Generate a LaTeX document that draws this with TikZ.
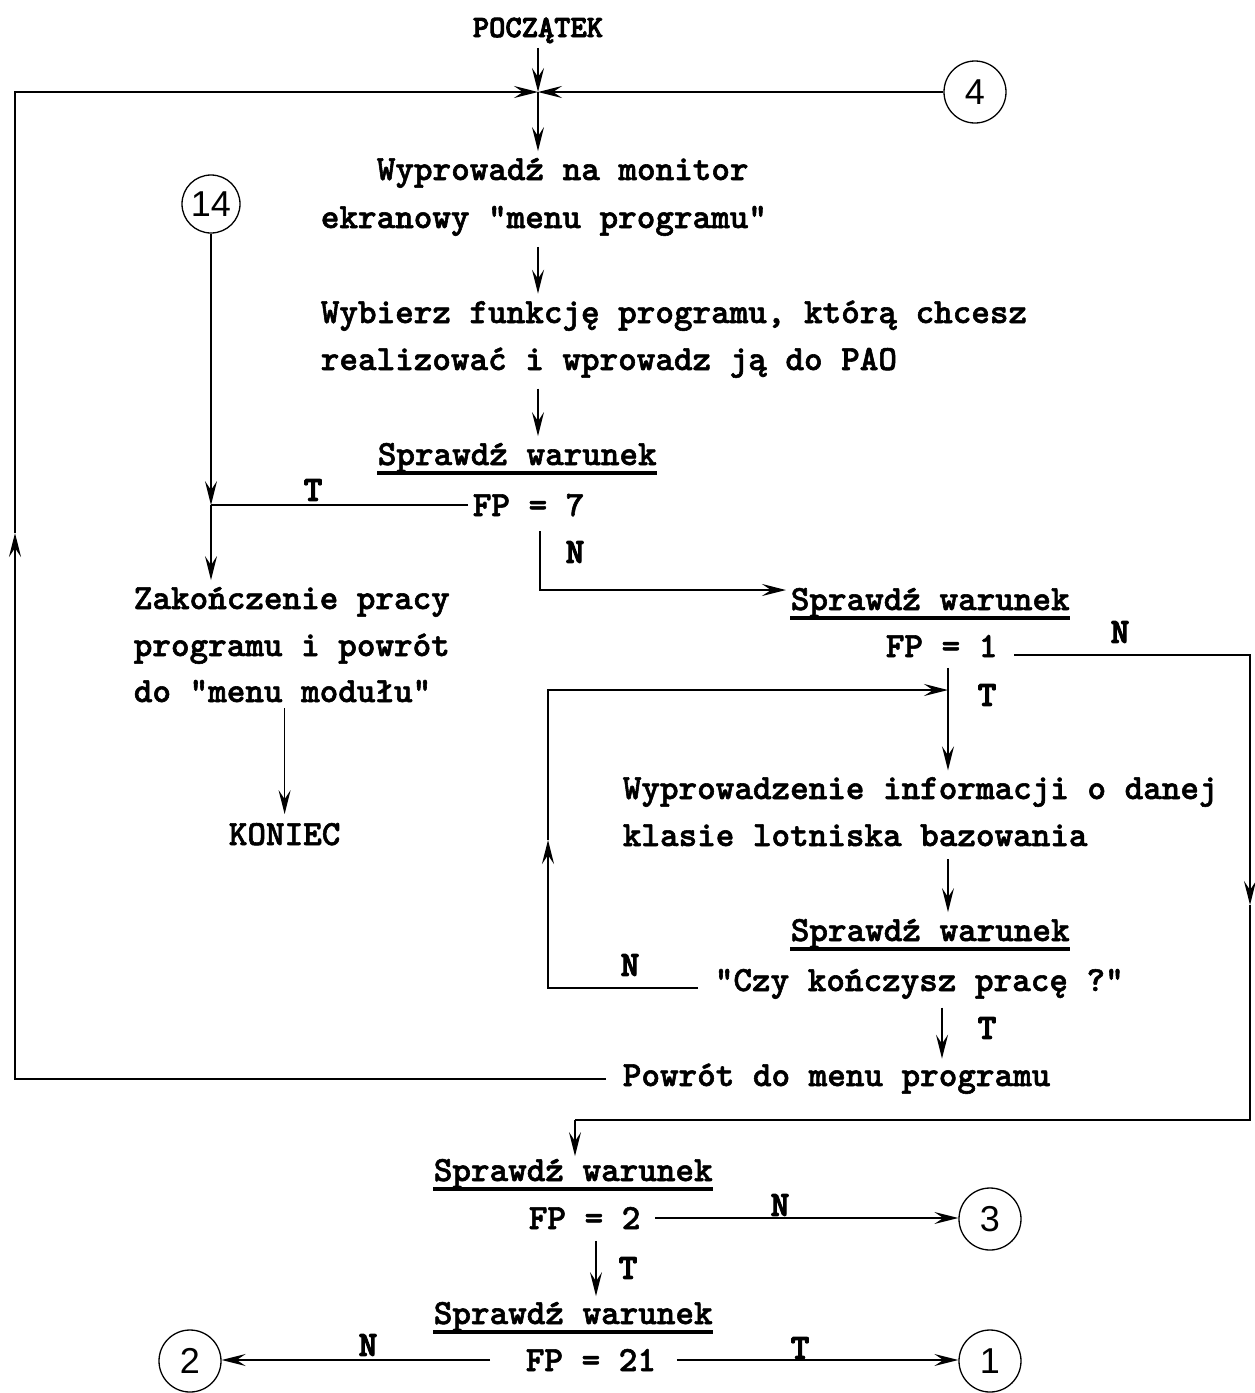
\documentclass[tikz,border=0pt]{standalone}
\usepackage{fontspec}
\newfontfamily\tw{lmmonolt10-bold}[Extension=.otf, FakeBold=1.6]
\newfontfamily\twb{lmmonolt10-bold}[Extension=.otf, FakeBold=3]
\newfontfamily\cf{Liberation Sans}
\usetikzlibrary{arrows.meta,calc}
\begin{document}
\begin{tikzpicture}[x=1pt,y=-1pt, line width=1.7pt,
  txt/.style={inner sep=0pt, anchor=base west, font=\tw\fontsize{35.4}{40}\selectfont},
  lbl/.style={inner sep=0pt, font=\twb\fontsize{35.4}{40}\selectfont},
  conn/.style={circle, draw, line width=1.3pt, minimum size=62pt, inner sep=0pt, font=\cf\fontsize{36}{40}\selectfont},
  arr/.style={-{Stealth[length=24pt,width=12pt,inset=9pt]}},
  und/.style={line width=3.5pt}]
\useasboundingbox (0,0) rectangle (1254,1393);
\fill[white] (0,0) rectangle (1254,1393);
% texts
\node[txt, font=\twb\fontsize{31}{34}\selectfont] (poc) at (472,37) {POCZĄTEK};
\node[txt] (w1) at (376,180) {Wyprowadź na monitor};
\node[txt] (w2) at (320,228) {ekranowy "menu programu"};
\node[txt] (b1) at (320,323) {Wybierz funkcję programu, którą chcesz};
\node[txt] (b2) at (320,370) {realizować i wprowadz ją do PAO};
\node[txt] (s1) at (377,465) {Sprawdź warunek};
\node[txt] (fp7) at (472,516) {FP = 7};
\node[txt] (z1) at (133,609) {Zakończenie pracy};
\node[txt] (z2) at (133,656) {programu i powrót};
\node[txt] (z3) at (133,702) {do "menu modułu"};
\node[txt] (kon) at (228,845) {KONIEC};
\node[txt] (s2) at (790,610) {Sprawdź warunek};
\node[txt] (fp1) at (885,657) {FP = 1};
\node[txt] (y1) at (622,799) {Wyprowadzenie informacji o danej};
\node[txt] (y2) at (622,846) {klasie lotniska bazowania};
\node[txt] (s3) at (790,941) {Sprawdź warunek};
\node[txt] (czy) at (714,991) {"Czy kończysz pracę ?"};
\node[txt] (pow) at (622,1086) {Powrót do menu programu};
\node[txt] (s4) at (433,1181) {Sprawdź warunek};
\node[txt] (fp2) at (528,1229) {FP = 2};
\node[txt] (s5) at (433,1324) {Sprawdź warunek};
\node[txt] (fp21) at (525,1371) {FP = 21};
% underlines
\foreach \s in {s1,s2,s3,s4,s5}
  \draw[und] ($(\s.base west)+(0,8)$) -- ($(\s.base east)+(0,8)$);
% connectors (circles)
\node[conn] (c4) at (975,92) {4};
\node[conn, minimum size=58pt] (c14) at (211,204) {14};
\node[conn] (c3) at (990,1219) {3};
\node[conn] (c2) at (190,1361) {2};
\node[conn] (c1) at (990,1361) {1};
% labels
\node[lbl] (t1) at (313,490) {T};
\node[lbl] (n1) at (575,552) {N};
\node[lbl] (n2) at (1120,632) {N};
\node[lbl] (t2) at (987,695) {T};
\node[lbl] (n3) at (630,965) {N};
\node[lbl] (t3) at (987,1028) {T};
\node[lbl] (n4) at (780,1205) {N};
\node[lbl] (t4) at (628,1268) {T};
\node[lbl] (n5) at (368,1345) {N};
\node[lbl] (t5) at (800,1348) {T};
% coordinates
\coordinate (jn) at (538,92);
\coordinate (e2) at (15,533);
\coordinate (e3) at (15,92);
\coordinate (k7) at (540,590);
\coordinate (r1) at (1250,655);
\coordinate (rm) at (1250,905);
\coordinate (r2) at (1250,1120);
\coordinate (r3) at (575,1120);
\coordinate (v1) at (948,690);
\coordinate (l1) at (548,988);
\coordinate (lm) at (548,840);
\coordinate (l2) at (548,690);
\coordinate (v2) at (942,1000);
\coordinate (v3) at (596,1240);
% main flow
\draw[arr, shorten <=4pt] (jn |- poc.south) -- (jn);
\draw[arr] (c4.west) -- (jn);
\draw[arr] ($(pow.west)+(-16,0)$) -- (pow.west -| e2) -- (e2);
\draw[arr] (e2) -- (e3) -- (jn);
\draw[arr, shorten >=6pt] (jn) -- (jn |- w1.north);
\draw[arr, shorten <=10pt, shorten >=6pt] (jn |- w2.south) -- (jn |- b1.north);
\draw[arr, shorten <=10pt, shorten >=6pt] (jn |- b2.south) -- (jn |- s1.north);
% FP=7
\draw ($(fp7.west)+(-4,0)$) -- (fp7.west -| c14);
\draw[arr] (c14.south) -- (fp7.west -| c14);
\draw[arr, shorten >=6pt] (fp7.west -| c14) -- (c14 |- z1.north);
\draw[arr, shorten <=5pt, shorten >=8pt] (kon.north |- z3.south) -- (kon.north);
\draw[arr, shorten <=14pt, shorten >=4pt] (k7 |- fp7.south) -- (k7) -- (k7 -| s2.west);
% FP=1
\draw[arr] ($(fp1.east |- r1)+(16,0)$) -- (r1) -- (rm);
\draw (rm) -- (r2) -- (r3);
\draw[arr, shorten >=2pt] (r3) -- (r3 |- s4.north);
\draw[arr, shorten <=10pt, shorten >=6pt] (v1 |- fp1.south) -- (v1 |- y1.north);
\draw[arr, shorten <=12pt, shorten >=6pt] (v1 |- y2.south) -- (v1 |- s3.north);
% loop
\draw[arr] ($(czy.west |- l1)+(-16,0)$) -- (l1) -- (lm);
\draw[arr] (lm) -- (l2) -- (v1);
\draw[arr, shorten <=8pt, shorten >=4pt] (v2 |- czy.south) -- (v2 |- pow.north);
% bottom
\draw[arr] ($(fp2.east)+(14,0)$) -- (fp2.east -| c3.west);
\draw[arr, shorten <=11pt, shorten >=5pt] (v3 |- fp2.south) -- (v3 |- s5.north);
\draw[arr] ($(fp21.west)+(-35,0)$) -- (fp21.west -| c2.east);
\draw[arr] ($(fp21.east)+(20,0)$) -- (fp21.east -| c1.west);
\end{tikzpicture}
\end{document}
